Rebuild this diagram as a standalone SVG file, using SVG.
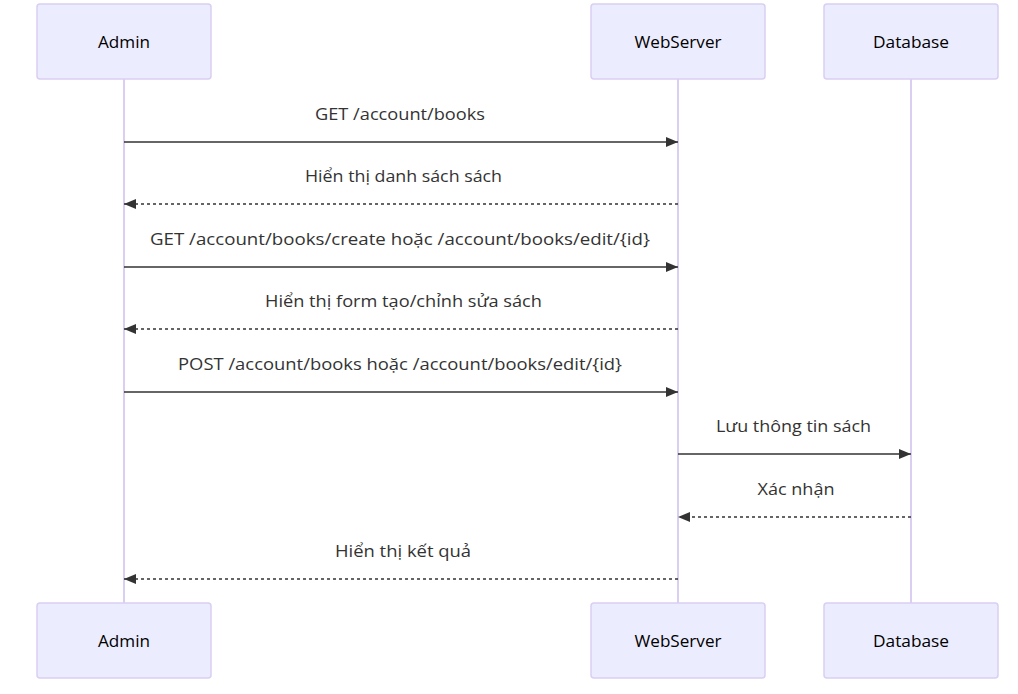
<svg xmlns="http://www.w3.org/2000/svg" width="1018" height="694" viewBox="0 0 1018 694">
<style>
.actor{fill:#ECECFF;stroke:#DACEF3;stroke-width:1.5}
.life{stroke:#DACEF3;stroke-width:2}
.at{font-family:"Open Sans","DejaVu Sans",sans-serif;font-size:16px;fill:#000;text-anchor:middle;dominant-baseline:central}
.mt{font-family:"Open Sans","DejaVu Sans",sans-serif;font-size:16px;fill:#333;text-anchor:middle;dominant-baseline:central}
.msg{stroke:#333;stroke-width:1.5;fill:none}
.dash{stroke-dasharray:3,3}
</style>
<defs>
<marker id="ah" viewBox="0 0 12 10" refX="12" refY="5" markerWidth="12" markerHeight="10" markerUnits="userSpaceOnUse" orient="auto">
<path d="M0,0 L12,5 L0,10 z" fill="#333"/>
</marker>
</defs>
<rect width="1018" height="694" fill="#fff"/>
<g id="lifelines">
<line class="life" x1="124" y1="79" x2="124" y2="603"/>
<line class="life" x1="678" y1="79" x2="678" y2="603"/>
<line class="life" x1="911" y1="79" x2="911" y2="603"/>
</g>
<g id="admin-top"><rect class="actor" x="37" y="4" width="174" height="75" rx="3"/><text class="at" x="124" y="42" textLength="52" lengthAdjust="spacingAndGlyphs">Admin</text></g>
<g id="webserver-top"><rect class="actor" x="591" y="4" width="174" height="75" rx="3"/><text class="at" x="678" y="42" textLength="87" lengthAdjust="spacingAndGlyphs">WebServer</text></g>
<g id="database-top"><rect class="actor" x="824" y="4" width="174" height="75" rx="3"/><text class="at" x="911" y="42" textLength="76" lengthAdjust="spacingAndGlyphs">Database</text></g>
<g id="admin-bottom"><rect class="actor" x="37" y="603" width="174" height="75" rx="3"/><text class="at" x="124" y="641" textLength="52" lengthAdjust="spacingAndGlyphs">Admin</text></g>
<g id="webserver-bottom"><rect class="actor" x="591" y="603" width="174" height="75" rx="3"/><text class="at" x="678" y="641" textLength="87" lengthAdjust="spacingAndGlyphs">WebServer</text></g>
<g id="database-bottom"><rect class="actor" x="824" y="603" width="174" height="75" rx="3"/><text class="at" x="911" y="641" textLength="76" lengthAdjust="spacingAndGlyphs">Database</text></g>
<g id="connectors">
<line class="msg" x1="124" y1="142" x2="678" y2="142" marker-end="url(#ah)"/>
<line class="msg dash" x1="678" y1="204" x2="124" y2="204" marker-end="url(#ah)"/>
<line class="msg" x1="124" y1="267" x2="678" y2="267" marker-end="url(#ah)"/>
<line class="msg dash" x1="678" y1="329" x2="124" y2="329" marker-end="url(#ah)"/>
<line class="msg" x1="124" y1="392" x2="678" y2="392" marker-end="url(#ah)"/>
<line class="msg" x1="678" y1="454" x2="911" y2="454" marker-end="url(#ah)"/>
<line class="msg dash" x1="911" y1="517" x2="678" y2="517" marker-end="url(#ah)"/>
<line class="msg dash" x1="678" y1="579" x2="124" y2="579" marker-end="url(#ah)"/>
<text class="mt" x="400" y="114" textLength="170" lengthAdjust="spacingAndGlyphs">GET /account/books</text>
<text class="mt" x="403.5" y="176" textLength="197" lengthAdjust="spacingAndGlyphs">Hiển thị danh sách sách</text>
<text class="mt" x="400" y="239" textLength="500" lengthAdjust="spacingAndGlyphs">GET /account/books/create hoặc /account/books/edit/{id}</text>
<text class="mt" x="403.5" y="301" textLength="277" lengthAdjust="spacingAndGlyphs">Hiển thị form tạo/chỉnh sửa sách</text>
<text class="mt" x="400" y="364" textLength="444" lengthAdjust="spacingAndGlyphs">POST /account/books hoặc /account/books/edit/{id}</text>
<text class="mt" x="793.5" y="426" textLength="155" lengthAdjust="spacingAndGlyphs">Lưu thông tin sách</text>
<text class="mt" x="796" y="489" textLength="77" lengthAdjust="spacingAndGlyphs">Xác nhận</text>
<text class="mt" x="403" y="551" textLength="136" lengthAdjust="spacingAndGlyphs">Hiển thị kết quả</text>
</g>
</svg>
